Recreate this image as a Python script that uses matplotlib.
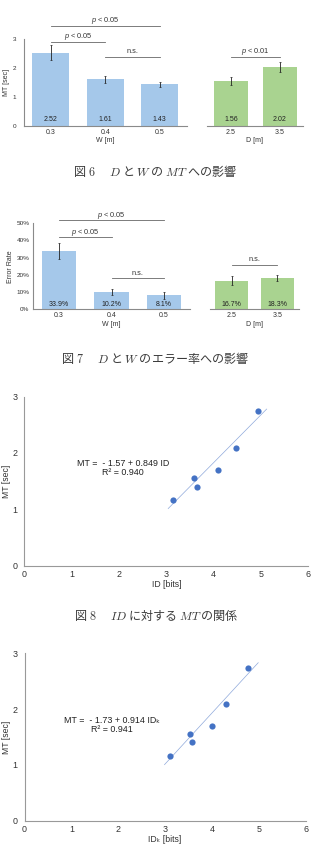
import numpy as np
import matplotlib.pyplot as plt

plt.rcParams['font.family'] = ['Liberation Sans', 'DejaVu Sans']
plt.rcParams['mathtext.fontset'] = 'custom'
plt.rcParams['mathtext.rm'] = 'Liberation Sans'
plt.rcParams['mathtext.it'] = 'Liberation Sans:italic'
plt.rcParams['mathtext.bf'] = 'Liberation Sans:bold'

# --- data ---
w_levels = ['0.3', '0.4', '0.5']
d_levels = ['2.5', '3.5']

mt_w = [2.52, 1.61, 1.43]
mt_w_err = [0.26, 0.12, 0.08]
mt_d = [1.56, 2.02]
mt_d_err = [0.14, 0.17]

err_w = [33.9, 10.2, 8.1]
err_w_err = [4.4, 1.6, 2.1]
err_d = [16.7, 18.3]
err_d_err = [2.8, 1.9]

sig_mt_w = [(0, 2, '$p$ < 0.05'), (0, 1, '$p$ < 0.05'), (1, 2, 'n.s.')]
sig_mt_d = [(0, 1, '$p$ < 0.01')]
sig_err_w = [(0, 2, '$p$ < 0.05'), (0, 1, '$p$ < 0.05'), (1, 2, 'n.s.')]
sig_err_d = [(0, 1, 'n.s.')]

id_bits = [3.14, 3.59, 3.64, 4.10, 4.47, 4.93]
idk_bits = [3.11, 3.54, 3.57, 4.01, 4.30, 4.77]
mt_cond = [1.16, 1.56, 1.40, 1.70, 2.09, 2.74]

fit_id = (-1.57, 0.849, 0.940)
fit_idk = (-1.73, 0.914, 0.941)
fit_id_range = [3.04, 5.12]
fit_idk_range = [2.99, 4.99]

W, H = 314, 865
BLUE = '#a5c8ea'
GREEN = '#a9d390'
TXT = '#333333'
BS = 5.0  # base text size in the bar charts

fig = plt.figure(figsize=(W / 100, H / 100), dpi=100)


def px(l, t, r, b):
    # pixel box -> figure fraction
    return [l / W, 1 - b / H, (r - l) / W, (b - t) / H]


def bar_panel(rect, labels, vals, errs, color, ylim, xlim, width,
              fmt, val_off, sigs, sig_heights, xlabel, yticks=None):
    ax = fig.add_axes(px(*rect))
    x = np.arange(len(vals))
    ax.bar(x, vals, width, color=color, yerr=errs,
           error_kw=dict(ecolor='#222222', elinewidth=0.6, capsize=1.0, capthick=0.5))
    for xi, v in zip(x, vals):
        ax.annotate(fmt(v), (xi, 0), xytext=(0, val_off), textcoords='offset points',
                    ha='center', va='center', fontsize=BS, color='#222222')
    for (i, j, lab), h in zip(sigs, sig_heights):
        ax.plot([i, j], [h, h], color='#666666', lw=0.6, clip_on=False)
        ax.annotate(lab, ((i + j) / 2, h), xytext=(0, 3.6), textcoords='offset points',
                    ha='center', va='center', fontsize=5.3, color=TXT,
                    annotation_clip=False)
    ax.set_xlim(*xlim)
    ax.set_ylim(*ylim)
    ax.set_xticks(x, labels)
    ax.set_xlabel(xlabel, fontsize=BS, color=TXT, labelpad=1.0)
    for s in ['top', 'right']:
        ax.spines[s].set_visible(False)
    ax.spines['bottom'].set_color('#8a8a8a')
    ax.spines['bottom'].set_linewidth(0.8)
    if yticks is None:
        ax.spines['left'].set_visible(False)
        ax.set_yticks([])
    else:
        ax.spines['left'].set_color('#8a8a8a')
        ax.spines['left'].set_linewidth(0.8)
        ax.set_yticks(yticks[0], yticks[1])
    ax.tick_params(length=0, labelsize=BS, colors=TXT)
    ax.tick_params(axis='y', labelsize=4.6)
    ax.tick_params(axis='x', pad=2.3)
    return ax


# ---- Fig 6: MT by W and D ----
ax = bar_panel((23.7, 39, 187, 125.7), w_levels, mt_w, mt_w_err, BLUE, (0, 3),
               (-0.5, 2.5), 0.68, lambda v: f'{v:.2f}', 4.8, sig_mt_w,
               [3.46, 2.91, 2.39], 'W [m]', ([0, 1, 2, 3], ['0', '1', '2', '3']))
ax.tick_params(axis='y', pad=5.5)
ax.set_ylabel('MT [sec]', fontsize=BS, color=TXT)
ax.yaxis.set_label_coords(-0.084, 0.5)

bar_panel((207, 39, 303, 125.7), d_levels, mt_d, mt_d_err, GREEN, (0, 3),
          (-0.49, 1.48), 0.7, lambda v: f'{v:.2f}', 4.8, sig_mt_d, [2.39], 'D [m]')

# ---- Fig 7: error rate by W and D ----
pct = [0, 10, 20, 30, 40, 50]
ax = bar_panel((33, 223.3, 190, 309.3), w_levels, err_w, err_w_err, BLUE, (0, 50),
               (-0.5, 2.5), 0.66, lambda v: f'{v:.1f}%', 3.6, sig_err_w,
               [51.9, 41.9, 18.0], 'W [m]', (pct, [f'{p}%' for p in pct]))
ax.tick_params(axis='y', pad=2.5)
ax.set_ylabel('Error Rate', fontsize=BS, color=TXT)
ax.yaxis.set_label_coords(-0.124, 0.5)

bar_panel((210, 223.3, 299, 309.3), d_levels, err_d, err_d_err, GREEN, (0, 50),
          (-0.47, 1.47), 0.71, lambda v: f'{v:.1f}%', 3.6, sig_err_d, [25.8], 'D [m]')


# ---- Fig 8 / 9: scatter with regression ----
def scatter_panel(rect, xs, ys, fit, fit_range, xlabel, eq_name, eq_pos, ylab_x):
    ax = fig.add_axes(px(*rect))
    ax.scatter(xs, ys, s=20, color='#4472c4', zorder=3, linewidths=0)
    b0, b1, r2 = fit
    fx = np.array(fit_range)
    ax.plot(fx, b0 + b1 * fx, color='#8fa9db', lw=0.5, zorder=2)
    ax.text(eq_pos[0], eq_pos[1],
            f'MT =  - {abs(b0):.2f} + {b1:.3f} {eq_name}\nR\u00b2 = {r2:.3f}',
            ha='center', va='center', fontsize=6.4, color='#222222',
            linespacing=1.05)
    ax.set_xlim(0, 6)
    ax.set_ylim(0, 3)
    ax.set_xticks(range(7))
    ax.set_yticks(range(4))
    for s in ['top', 'right']:
        ax.spines[s].set_visible(False)
    for s in ['left', 'bottom']:
        ax.spines[s].set_color('#999999')
        ax.spines[s].set_linewidth(0.8)
    ax.tick_params(length=0, labelsize=6.4, colors=TXT)
    ax.tick_params(axis='x', pad=3.0)
    ax.tick_params(axis='y', pad=5)
    ax.set_xlabel(xlabel, fontsize=6.2, color=TXT, labelpad=1.2)
    ax.set_ylabel('MT [sec]', fontsize=6.2, color=TXT)
    ax.yaxis.set_label_coords(ylab_x, 0.5)
    return ax


scatter_panel((24.3, 396.5, 308.3, 565.5), id_bits, mt_cond, fit_id, fit_id_range,
              'ID [bits]', 'ID', (2.085, 1.73), -0.046)
scatter_panel((24.5, 653.3, 305.5, 820.5), idk_bits, mt_cond, fit_idk, fit_idk_range,
              'ID\u2096 [bits]', 'ID\u2096', (1.86, 1.71), -0.047)

# ---- captions ----
captions = [
    (155, 171, r'図$\ \mathbf{6}$　 $D$ と $W$ の $MT$ への影響'),
    (155.5, 357.7, r'図$\ \mathbf{7}$　 $D$ と $W$ のエラー率への影響'),
    (156, 615.7, r'図$\ \mathbf{8}$　 $ID$ に対する $MT$ の関係'),
]
for cx, cy, s in captions:
    fig.text(cx / W, 1 - cy / H, s, ha='center', va='center', fontsize=8.7,
             family=['Noto Sans CJK JP'], math_fontfamily='cm', color='#3a3a3a')

fig.savefig('out.png', dpi=100)
